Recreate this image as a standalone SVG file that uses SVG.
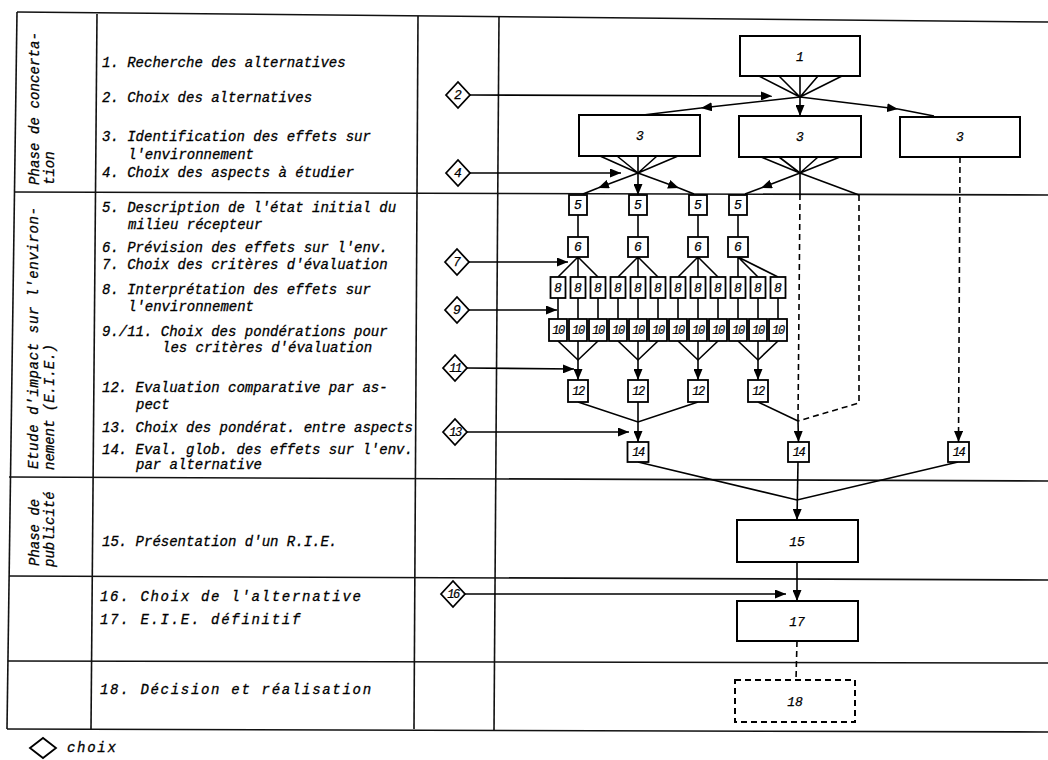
<svg xmlns="http://www.w3.org/2000/svg" width="1048" height="760" viewBox="0 0 1048 760">
<defs>
<style>
.fr{stroke:#111;stroke-width:1.6;fill:none}
.ln{stroke:#000;stroke-width:1.6;fill:none}
.da{stroke:#000;stroke-width:1.6;fill:none;stroke-dasharray:6 4}
.box{fill:#fff;stroke:#000;stroke-width:2}
.sb{fill:#fff;stroke:#000;stroke-width:1.8}
.dm{fill:#fff;stroke:#000;stroke-width:1.8}
.t{font-family:"Liberation Mono","DejaVu Sans Mono",monospace;font-style:italic;font-size:14px;fill:#000;stroke:#000;stroke-width:0.3}
.ts{font-family:"Liberation Mono","DejaVu Sans Mono",monospace;font-style:italic;font-size:14px;fill:#000;stroke:#000;stroke-width:0.3;letter-spacing:1.7px}
.n{font-family:"Liberation Mono","DejaVu Sans Mono",monospace;font-style:italic;font-size:13px;fill:#000;stroke:#000;stroke-width:0.25;text-anchor:middle}
.ns{font-family:"Liberation Mono","DejaVu Sans Mono",monospace;font-style:italic;font-size:12px;fill:#000;stroke:#000;stroke-width:0.2;text-anchor:middle;letter-spacing:-1.5px}
</style>
<marker id="ah" viewBox="0 0 11 9" refX="11" refY="4.5" markerWidth="11" markerHeight="9" markerUnits="userSpaceOnUse" orient="auto"><path d="M0,0 L11,4.5 L0,9 z" fill="#000"/></marker>
</defs>
<rect width="1048" height="760" fill="#fff"/>

<g id="frame">
<line class="fr" x1="17" y1="12" x2="1048" y2="22" stroke-width="2"/>
<line class="fr" x1="17" y1="12" x2="7" y2="729"/>
<line class="fr" x1="97" y1="14" x2="91" y2="729"/>
<line class="fr" x1="418" y1="16" x2="414" y2="729"/>
<line class="fr" x1="499" y1="16" x2="494" y2="731" stroke-width="1.2"/>
<line class="fr" x1="15" y1="192" x2="1048" y2="195"/>
<line class="fr" x1="9" y1="477" x2="1048" y2="481"/>
<line class="fr" x1="9" y1="576" x2="1048" y2="580"/>
<line class="fr" x1="8" y1="661" x2="1048" y2="663" stroke-width="1.3"/>
<line class="fr" x1="7" y1="729" x2="1048" y2="732" stroke-width="2.5"/>
</g>

<g id="phase-labels">
<text class="t" transform="translate(39,185) rotate(-90)" textLength="153">Phase de concerta-</text>
<text class="t" transform="translate(54,185) rotate(-90)">tion</text>
<text class="t" transform="translate(38,469) rotate(-90)" textLength="262">Etude d'impact sur l'environ-</text>
<text class="t" transform="translate(54,470) rotate(-90)">nement (E.I.E.)</text>
<text class="t" transform="translate(39,566) rotate(-90)">Phase de</text>
<text class="t" transform="translate(54,567) rotate(-90)">publicité</text>
</g>

<g id="step-texts">
<text class="t" x="102" y="67">1. Recherche des alternatives</text>
<text class="t" x="102" y="102">2. Choix des alternatives</text>
<text class="t" x="102" y="141">3. Identification des effets sur</text>
<text class="t" x="128" y="159">l'environnement</text>
<text class="t" x="102" y="177">4. Choix des aspects à étudier</text>
<text class="t" x="102" y="212">5. Description de l'état initial du</text>
<text class="t" x="128" y="229">milieu récepteur</text>
<text class="t" x="102" y="252">6. Prévision des effets sur l'env.</text>
<text class="t" x="102" y="269">7. Choix des critères d'évaluation</text>
<text class="t" x="102" y="294">8. Interprétation des effets sur</text>
<text class="t" x="128" y="311">l'environnement</text>
<text class="t" x="102" y="336">9./11. Choix des pondérations pour</text>
<text class="t" x="162" y="352">les critères d'évaluation</text>
<text class="t" x="102" y="392">12. Evaluation comparative par as-</text>
<text class="t" x="136" y="409">pect</text>
<text class="t" x="102" y="432">13. Choix des pondérat. entre aspects</text>
<text class="t" x="102" y="454">14. Eval. glob. des effets sur l'env.</text>
<text class="t" x="136" y="469">par alternative</text>
<text class="t" x="102" y="546">15. Présentation d'un R.I.E.</text>
<text class="ts" x="100" y="601">16. Choix de l'alternative</text>
<text class="ts" x="100" y="624">17. E.I.E. définitif</text>
<text class="ts" x="100" y="694">18. Décision et réalisation</text>
</g>

<g id="connectors">
<line class="ln" x1="470" y1="95" x2="772" y2="96" marker-end="url(#ah)"/>
<path class="ln" d="M759,76 L800,97 M779,76 L800,97 M818,76 L800,97 M842,76 L800,97"/>
<line class="ln" x1="800" y1="76" x2="800" y2="116" marker-end="url(#ah)"/>
<line class="ln" x1="800" y1="97" x2="701" y2="108" marker-end="url(#ah)"/>
<line class="ln" x1="701" y1="108" x2="643" y2="115"/>
<line class="ln" x1="800" y1="97" x2="898" y2="109" marker-end="url(#ah)"/>
<line class="ln" x1="898" y1="109" x2="934" y2="116"/>

<line class="ln" x1="470" y1="173" x2="621" y2="173" marker-end="url(#ah)"/>
<path class="ln" d="M600,156 L638,173 M617,156 L638,173 M657,156 L638,173 M678,156 L638,173"/>
<line class="ln" x1="638" y1="156" x2="638" y2="195" marker-end="url(#ah)"/>
<line class="ln" x1="638" y1="173" x2="598" y2="188" marker-end="url(#ah)"/>
<line class="ln" x1="598" y1="188" x2="583" y2="194"/>
<line class="ln" x1="638" y1="173" x2="679" y2="188" marker-end="url(#ah)"/>
<line class="ln" x1="679" y1="188" x2="694" y2="194"/>

<path class="ln" d="M761,157 L800,173 M779,157 L800,173 M818,157 L800,173 M840,157 L800,173"/>
<line class="ln" x1="800" y1="173" x2="761" y2="188" marker-end="url(#ah)"/>
<line class="ln" x1="761" y1="188" x2="745" y2="194"/>
<line class="ln" x1="800" y1="157" x2="800" y2="194"/>
<line class="da" x1="800" y1="194" x2="798" y2="421"/>
<line class="ln" x1="800" y1="173" x2="859" y2="195"/>
<path class="da" d="M859,195 L859,403 L798,421"/>
<line class="da" x1="960" y1="157" x2="958.5" y2="442" marker-end="url(#ah)"/>

<path class="ln" d="M578,215 V237 M638,215 V237 M698,215 V237 M738,215 V237"/>
<line class="ln" x1="469" y1="262" x2="568" y2="262" marker-end="url(#ah)"/>
<path class="ln" d="M578,257 L558,277 M578,257 V277 M578,257 L598,277 M638,257 L618,277 M638,257 V277 M638,257 L658,277 M698,257 L678,277 M698,257 V277 M698,257 L718,277 M738,257 V277 M738,257 L758,277 M738,257 L778,277"/>
<line class="ln" x1="469" y1="310" x2="557" y2="310" marker-end="url(#ah)"/>
<path class="ln" d="M558,298 V319 M578,298 V319 M598,298 V319 M618,298 V319 M638,298 V319 M658,298 V319 M678,298 V319 M698,298 V319 M718,298 V319 M738,298 V319 M758,298 V319 M778,298 V319"/>
<path class="ln" d="M558,341 L578,360 L598,341 M618,341 L638,360 L658,341 M678,341 L698,360 L718,341 M738,341 L758,360 L778,341"/>
<line class="ln" x1="578" y1="341" x2="578" y2="380" marker-end="url(#ah)"/>
<line class="ln" x1="638" y1="341" x2="638" y2="380" marker-end="url(#ah)"/>
<line class="ln" x1="698" y1="341" x2="698" y2="380" marker-end="url(#ah)"/>
<line class="ln" x1="758" y1="341" x2="758" y2="380" marker-end="url(#ah)"/>
<line class="ln" x1="467" y1="368" x2="574" y2="369" marker-end="url(#ah)"/>

<path class="ln" d="M578,402 L638,422 L698,402"/>
<line class="ln" x1="638" y1="402" x2="638" y2="442" marker-end="url(#ah)"/>
<line class="ln" x1="758" y1="402" x2="798" y2="421"/>
<line class="ln" x1="798" y1="421" x2="798.5" y2="442" marker-end="url(#ah)"/>
<line class="ln" x1="467" y1="432" x2="629" y2="432" marker-end="url(#ah)"/>

<path class="ln" d="M638,462 L797,500 L958,462"/>
<line class="ln" x1="798" y1="462" x2="797" y2="520" marker-end="url(#ah)"/>
<line class="ln" x1="797" y1="562" x2="797" y2="601" marker-end="url(#ah)"/>
<line class="ln" x1="465" y1="594" x2="786" y2="594" marker-end="url(#ah)"/>
<line class="da" x1="797" y1="641" x2="796" y2="680"/>
</g>

<g id="choices">
<g id="d2"><path class="dm" d="M446,95 L458,82 L470,95 L458,108 Z"/><text class="n" x="458" y="99">2</text></g>
<g id="d4"><path class="dm" d="M446,173 L458,160 L470,173 L458,186 Z"/><text class="n" x="458" y="177">4</text></g>
<g id="d7"><path class="dm" d="M445,262 L457,249 L469,262 L457,275 Z"/><text class="n" x="457" y="266">7</text></g>
<g id="d9"><path class="dm" d="M445,310 L457,297 L469,310 L457,323 Z"/><text class="n" x="457" y="314">9</text></g>
<g id="d11"><path class="dm" d="M443,368 L455,355 L467,368 L455,381 Z"/><text class="ns" x="455" y="372">11</text></g>
<g id="d13"><path class="dm" d="M443,432 L455,419 L467,432 L455,445 Z"/><text class="ns" x="455" y="436">13</text></g>
<g id="d16"><path class="dm" d="M441,594 L453,581 L465,594 L453,607 Z"/><text class="ns" x="453" y="598">16</text></g>
</g>

<g id="n1"><rect class="box" x="740" y="36" width="120" height="40"/><text class="n" x="800" y="61">1</text></g>
<g id="n3a"><rect class="box" x="579" y="115" width="121" height="41"/><text class="n" x="640" y="140">3</text></g>
<g id="n3b"><rect class="box" x="739" y="116" width="122" height="41"/><text class="n" x="800" y="141">3</text></g>
<g id="n3c"><rect class="box" x="900" y="117" width="120" height="40"/><text class="n" x="960" y="141">3</text></g>

<g id="n5">
<g id="n5a"><rect class="sb" x="569" y="195" width="18" height="20"/><text class="n" x="578" y="209">5</text></g>
<g id="n5b"><rect class="sb" x="629" y="195" width="18" height="20"/><text class="n" x="638" y="209">5</text></g>
<g id="n5c"><rect class="sb" x="689" y="195" width="18" height="20"/><text class="n" x="698" y="209">5</text></g>
<g id="n5d"><rect class="sb" x="729" y="195" width="18" height="20"/><text class="n" x="738" y="209">5</text></g>
</g>
<g id="n6">
<g id="n6a"><rect class="sb" x="568" y="237" width="20" height="20"/><text class="n" x="578" y="251">6</text></g>
<g id="n6b"><rect class="sb" x="628" y="237" width="20" height="20"/><text class="n" x="638" y="251">6</text></g>
<g id="n6c"><rect class="sb" x="688" y="237" width="20" height="20"/><text class="n" x="698" y="251">6</text></g>
<g id="n6d"><rect class="sb" x="728" y="237" width="20" height="20"/><text class="n" x="738" y="251">6</text></g>
</g>
<g id="n8">
<g id="n8-1"><rect class="sb" x="550.5" y="277" width="15" height="21"/><text class="n" x="558" y="292">8</text></g>
<g id="n8-2"><rect class="sb" x="570.5" y="277" width="15" height="21"/><text class="n" x="578" y="292">8</text></g>
<g id="n8-3"><rect class="sb" x="590.5" y="277" width="15" height="21"/><text class="n" x="598" y="292">8</text></g>
<g id="n8-4"><rect class="sb" x="610.5" y="277" width="15" height="21"/><text class="n" x="618" y="292">8</text></g>
<g id="n8-5"><rect class="sb" x="630.5" y="277" width="15" height="21"/><text class="n" x="638" y="292">8</text></g>
<g id="n8-6"><rect class="sb" x="650.5" y="277" width="15" height="21"/><text class="n" x="658" y="292">8</text></g>
<g id="n8-7"><rect class="sb" x="670.5" y="277" width="15" height="21"/><text class="n" x="678" y="292">8</text></g>
<g id="n8-8"><rect class="sb" x="690.5" y="277" width="15" height="21"/><text class="n" x="698" y="292">8</text></g>
<g id="n8-9"><rect class="sb" x="710.5" y="277" width="15" height="21"/><text class="n" x="718" y="292">8</text></g>
<g id="n8-10"><rect class="sb" x="730.5" y="277" width="15" height="21"/><text class="n" x="738" y="292">8</text></g>
<g id="n8-11"><rect class="sb" x="750.5" y="277" width="15" height="21"/><text class="n" x="758" y="292">8</text></g>
<g id="n8-12"><rect class="sb" x="770.5" y="277" width="15" height="21"/><text class="n" x="778" y="292">8</text></g>
</g>
<g id="n10">
<g id="n10-1"><rect class="sb" x="549" y="319" width="18" height="22"/><text class="ns" x="558" y="334">10</text></g>
<g id="n10-2"><rect class="sb" x="569" y="319" width="18" height="22"/><text class="ns" x="578" y="334">10</text></g>
<g id="n10-3"><rect class="sb" x="589" y="319" width="18" height="22"/><text class="ns" x="598" y="334">10</text></g>
<g id="n10-4"><rect class="sb" x="609" y="319" width="18" height="22"/><text class="ns" x="618" y="334">10</text></g>
<g id="n10-5"><rect class="sb" x="629" y="319" width="18" height="22"/><text class="ns" x="638" y="334">10</text></g>
<g id="n10-6"><rect class="sb" x="649" y="319" width="18" height="22"/><text class="ns" x="658" y="334">10</text></g>
<g id="n10-7"><rect class="sb" x="669" y="319" width="18" height="22"/><text class="ns" x="678" y="334">10</text></g>
<g id="n10-8"><rect class="sb" x="689" y="319" width="18" height="22"/><text class="ns" x="698" y="334">10</text></g>
<g id="n10-9"><rect class="sb" x="709" y="319" width="18" height="22"/><text class="ns" x="718" y="334">10</text></g>
<g id="n10-10"><rect class="sb" x="729" y="319" width="18" height="22"/><text class="ns" x="738" y="334">10</text></g>
<g id="n10-11"><rect class="sb" x="749" y="319" width="18" height="22"/><text class="ns" x="758" y="334">10</text></g>
<g id="n10-12"><rect class="sb" x="769" y="319" width="18" height="22"/><text class="ns" x="778" y="334">10</text></g>
</g>
<g id="n12">
<g id="n12a"><rect class="sb" x="568" y="380" width="20" height="22"/><text class="ns" x="578" y="395">12</text></g>
<g id="n12b"><rect class="sb" x="628" y="380" width="20" height="22"/><text class="ns" x="638" y="395">12</text></g>
<g id="n12c"><rect class="sb" x="688" y="380" width="20" height="22"/><text class="ns" x="698" y="395">12</text></g>
<g id="n12d"><rect class="sb" x="748" y="380" width="20" height="22"/><text class="ns" x="758" y="395">12</text></g>
</g>
<g id="n14">
<g id="n14a"><rect class="sb" x="627.5" y="442" width="21" height="20"/><text class="ns" x="638" y="456">14</text></g>
<g id="n14b"><rect class="sb" x="788" y="442" width="21" height="20"/><text class="ns" x="798.5" y="456">14</text></g>
<g id="n14c"><rect class="sb" x="948" y="442" width="21" height="20"/><text class="ns" x="958.5" y="456">14</text></g>
</g>
<g id="n15"><rect class="box" x="737" y="520" width="121" height="42"/><text class="n" x="797" y="546">15</text></g>
<g id="n17"><rect class="box" x="737" y="601" width="121" height="40"/><text class="n" x="797" y="626">17</text></g>
<g id="n18"><rect class="box" x="735" y="680" width="120" height="42" stroke-dasharray="6 4"/><text class="n" x="795" y="706">18</text></g>

<g id="legend">
<path class="dm" d="M30,748 L43,738 L56,748 L43,758 Z"/>
<text class="ts" x="67" y="752">choix</text>
</g>
</svg>
